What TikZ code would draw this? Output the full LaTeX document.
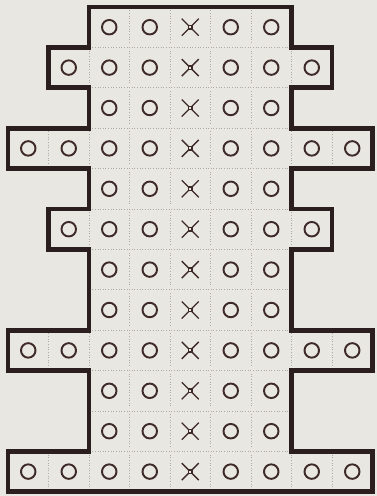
\documentclass[tikz,border=0pt]{standalone}
\usepackage{tikz}
\definecolor{paper}{RGB}{233,231,225}
\definecolor{ink}{RGB}{42,30,30}
\definecolor{seatink}{RGB}{62,42,40}
\definecolor{gridgray}{RGB}{175,170,165}
\tikzset{
  wall/.style={ink, line width=2.8pt, line join=miter},
  gridline/.style={gridgray, densely dotted, line width=0.5pt},
  seat/.style={seatink, line width=1.1pt},
  cross/.style={seatink, line width=0.75pt}
}

\begin{document}
\begin{tikzpicture}[x=0.81cm, y=-0.808cm]
    % paper and frame of the page
    \fill[paper] (-0.16cm,0.14cm) rectangle (7.38cm,-9.78cm);
    \useasboundingbox (-0.16cm,0.14cm) rectangle (7.38cm,-9.78cm);
    % rows: row / first column / last column (exclusive)
    \foreach \r/\a/\b in {0/2/7, 1/1/8, 2/2/7, 3/0/9, 4/2/7, 5/1/8,
                          6/2/7, 7/2/7, 8/0/9, 9/2/7, 10/2/7, 11/0/9} {
      \pgfmathtruncatemacro{\al}{\a+1}
      \pgfmathtruncatemacro{\bl}{\b-1}
      % dotted cell dividers
      \foreach \c in {\al,...,\bl}
        \draw[gridline] (\c,\r+0.08) -- (\c,\r+0.92);
      % marks: cross in the middle column, circles elsewhere
      \foreach \c in {\a,...,\bl} {
        \ifnum\c=4
          \draw[cross] (\c+0.5,\r+0.5) ++(-0.17cm,-0.17cm) -- ++(0.34cm,0.34cm);
          \draw[cross] (\c+0.5,\r+0.5) ++(-0.17cm,0.17cm) -- ++(0.34cm,-0.34cm);
          \filldraw[cross, fill=paper] (\c+0.5,\r+0.5) ++(-0.035cm,-0.035cm) rectangle ++(0.07cm,0.07cm);
        \else
          \draw[seat] (\c+0.5,\r+0.5) circle (0.145cm);
        \fi
      }
    }
    % dotted row dividers in the main body
    \foreach \r in {1,...,11}
      \draw[gridline] (2.08,\r) -- (6.92,\r);
    % outer wall
    \draw[wall] (2,0) -- (7,0) -- (7,1) -- (8,1) -- (8,2) -- (7,2) -- (7,3)
      -- (9,3) -- (9,4) -- (7,4) -- (7,5) -- (8,5) -- (8,6) -- (7,6) -- (7,8)
      -- (9,8) -- (9,9) -- (7,9) -- (7,11) -- (9,11) -- (9,12) -- (0,12)
      -- (0,11) -- (2,11) -- (2,9) -- (0,9) -- (0,8) -- (2,8) -- (2,6)
      -- (1,6) -- (1,5) -- (2,5) -- (2,4) -- (0,4) -- (0,3) -- (2,3) -- (2,2)
      -- (1,2) -- (1,1) -- (2,1) -- cycle;
  \end{tikzpicture}
\end{document}
